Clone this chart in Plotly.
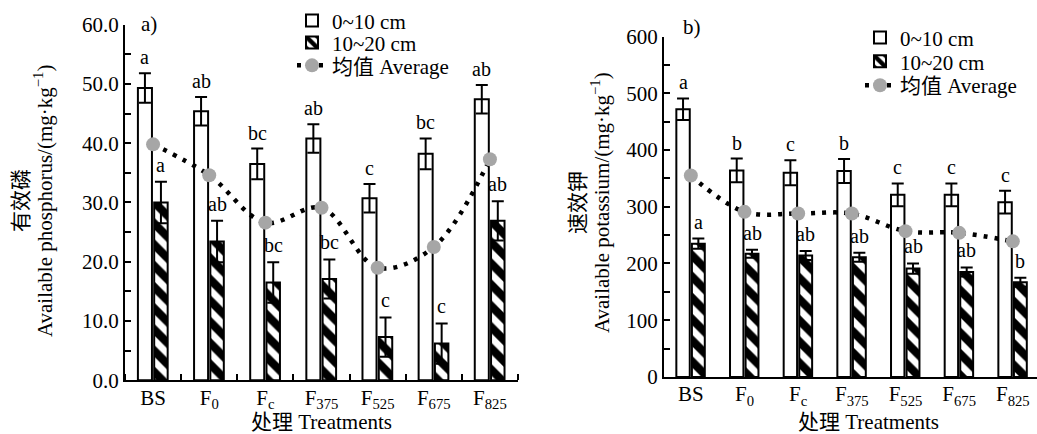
import plotly.graph_objects as go

# ---------------- data ----------------
treatments = ["BS", "F0", "Fc", "F375", "F525", "F675", "F825"]
tick_labels = ["BS", "F<sub>0</sub>", "F<sub>c</sub>", "F<sub>375</sub>",
               "F<sub>525</sub>", "F<sub>675</sub>", "F<sub>825</sub>"]

# a) available phosphorus (mg/kg)
p_0_10 = [49.3, 45.4, 36.5, 40.8, 30.7, 38.2, 47.4]
p_0_10_err = [2.5, 2.4, 2.6, 2.4, 2.4, 2.6, 2.4]
p_10_20 = [30.0, 23.4, 16.5, 17.1, 7.3, 6.2, 26.9]
p_10_20_err = [3.5, 3.5, 3.4, 3.3, 3.3, 3.4, 3.3]
p_avg = [39.8, 34.6, 26.6, 29.1, 19.0, 22.5, 37.3]
p_letters_0_10 = ["a", "ab", "bc", "ab", "c", "bc", "ab"]
p_letters_10_20 = ["a", "ab", "bc", "bc", "c", "c", "ab"]

# b) available potassium (mg/kg)
k_0_10 = [472, 364, 360, 363, 321, 321, 308]
k_0_10_err = [19, 21, 22, 21, 20, 20, 20]
k_10_20 = [235, 217, 214, 211, 191, 185, 167]
k_10_20_err = [9, 7, 8, 8, 9, 8, 8]
k_avg = [355, 291, 288, 288, 257, 254, 239]
k_letters_0_10 = ["a", "b", "c", "b", "c", "c", "c"]
k_letters_10_20 = ["a", "ab", "ab", "ab", "ab", "ab", "b"]

series_names = ["0~10 cm", "10~20 cm", "均值 Average"]

# ---------------- style ----------------
W, H = 1037, 434
FONT = "'Liberation Serif', 'Times New Roman', 'Noto Sans CJK SC', serif"
FS = 21
xpos = list(range(len(treatments)))

BAR1_OFF, BAR1_W = -0.27, 0.25
BAR2_OFF, BAR2_W = 0.02, 0.24

fig = go.Figure()


def add_panel(xa, ya, legends, v1, e1, v2, e2, avg, l1, l2):
    fig.add_trace(go.Bar(
        x=xpos, y=v1, name=series_names[0], xaxis=xa, yaxis=ya, legend=legends[0],
        offset=BAR1_OFF, width=BAR1_W,
        marker=dict(color="white", line=dict(color="black", width=2)),
        error_y=dict(type="data", array=e1, color="black", thickness=2, width=6),
    ))
    fig.add_trace(go.Bar(
        x=xpos, y=v2, name=series_names[1], xaxis=xa, yaxis=ya, legend=legends[1],
        offset=BAR2_OFF, width=BAR2_W,
        marker=dict(color="white", line=dict(color="black", width=2),
                    pattern=dict(shape="\\", fgcolor="black", bgcolor="white",
                                 fgopacity=1, size=15, solidity=0.55)),
        error_y=dict(type="data", array=e2, color="black", thickness=2, width=6),
    ))
    fig.add_trace(go.Scatter(
        x=xpos, y=avg, name=series_names[2], xaxis=xa, yaxis=ya, legend=legends[2],
        mode="lines+markers",
        line=dict(color="black", width=4.5, dash="4px,7px", shape="spline", smoothing=1),
        marker=dict(color="#a6a6a6", size=14),
    ))
    axsuffix = xa[1:]
    xref = "x" + axsuffix
    yref = "y" + axsuffix
    for i in xpos:
        fig.add_annotation(x=i + BAR1_OFF + BAR1_W / 2, y=v1[i] + e1[i], xref=xref, yref=yref,
                           text=l1[i], showarrow=False, yanchor="bottom", yshift=3,
                           font=dict(family=FONT, size=20, color="black"))
        fig.add_annotation(x=i + BAR2_OFF + BAR2_W / 2, y=v2[i] + e2[i], xref=xref, yref=yref,
                           text=l2[i], showarrow=False, yanchor="bottom", yshift=4,
                           font=dict(family=FONT, size=20, color="black"))


add_panel("x", "y", ["legend", "legend2", "legend3"],
          p_0_10, p_0_10_err, p_10_20, p_10_20_err, p_avg, p_letters_0_10, p_letters_10_20)
add_panel("x2", "y2", ["legend4", "legend5", "legend6"],
          k_0_10, k_0_10_err, k_10_20, k_10_20_err, k_avg, k_letters_0_10, k_letters_10_20)

axis_common = dict(showline=True, linecolor="black", linewidth=2, showgrid=False,
                   zeroline=False, fixedrange=True, automargin=False,
                   tickfont=dict(family=FONT, size=FS, color="black"))


def legend_at(px_x, px_y):
    return dict(x=px_x / W, y=1 - px_y / H, xanchor="left", yanchor="middle",
                bgcolor="rgba(0,0,0,0)", font=dict(family=FONT, size=FS),
                borderwidth=0)


fig.update_layout(
    template="none",
    width=W, height=H,
    margin=dict(l=0, r=0, t=0, b=0, pad=0),
    paper_bgcolor="white", plot_bgcolor="white",
    barmode="overlay",
    font=dict(family=FONT, size=FS, color="black"),
    xaxis=dict(domain=[125 / W, 518 / W], range=[-0.5, 6.5], anchor="y",
               tickmode="array", tickvals=xpos, ticktext=tick_labels, ticks="",
               ticklabelstandoff=-3,
               minor=dict(ticks="inside", tick0=0.5, dtick=1, ticklen=6,
                          tickwidth=2, tickcolor="black"),
               **axis_common),
    yaxis=dict(domain=[(H - 380.1) / H, (H - 22.7) / H], range=[0, 60], anchor="x",
               dtick=10, tickformat=".1f", ticks="inside", ticklen=6, tickwidth=2,
               tickcolor="black",
               minor=dict(ticks="inside", dtick=5, ticklen=6, tickwidth=2, tickcolor="black"),
               **axis_common),
    xaxis2=dict(domain=[664 / W, 1.0], range=[-0.5, 6.45], anchor="y2",
                tickmode="array", tickvals=xpos, ticktext=tick_labels, ticks="",
                ticklabelstandoff=-3,
                **axis_common),
    yaxis2=dict(domain=[(H - 376.7) / H, (H - 34.7) / H], range=[0, 600], anchor="x2",
                dtick=100, ticks="inside", ticklen=6, tickwidth=2, tickcolor="black",
                minor=dict(ticks="inside", dtick=50, ticklen=6, tickwidth=2, tickcolor="black"),
                **axis_common),
    legend=legend_at(292, 19),
    legend2=legend_at(292, 41),
    legend3=legend_at(292, 64),
    legend4=legend_at(860, 36),
    legend5=legend_at(860, 60),
    legend6=legend_at(860, 84),
    showlegend=True,
)

# panel tags, axis titles
txt = dict(showarrow=False, xref="paper", yref="paper",
           font=dict(family=FONT, size=FS, color="black"))
fig.add_annotation(text="a)", x=149 / W, y=1 - 21.7 / H, xanchor="center", yanchor="middle", **txt)
fig.add_annotation(text="b)", x=691.5 / W, y=1 - 25 / H, xanchor="center", yanchor="middle", **txt)
fig.add_annotation(text="处理 Treatments", x=321.5 / W, y=1 - 421.7 / H,
                   xanchor="center", yanchor="middle", **txt)
fig.add_annotation(text="处理 Treatments", x=868 / W, y=1 - 421.7 / H,
                   xanchor="center", yanchor="middle", **txt)
fig.add_annotation(text="有效磷", x=21 / W, y=1 - 200 / H, textangle=-90,
                   xanchor="center", yanchor="middle", **txt)
fig.add_annotation(text="Available phosphorus/(mg·kg<sup>−1</sup>)", x=43 / W, y=1 - 200 / H,
                   textangle=-90, xanchor="center", yanchor="middle", **txt)
fig.add_annotation(text="速效钾", x=578 / W, y=1 - 202 / H, textangle=-90,
                   xanchor="center", yanchor="middle", **txt)
fig.add_annotation(text="Available potassium/(mg·kg<sup>−1</sup>)", x=600 / W, y=1 - 202 / H,
                   textangle=-90, xanchor="center", yanchor="middle", **txt)

fig.write_html("out.html", config={"displayModeBar": False},
               post_script="document.body.style.margin='0';")
